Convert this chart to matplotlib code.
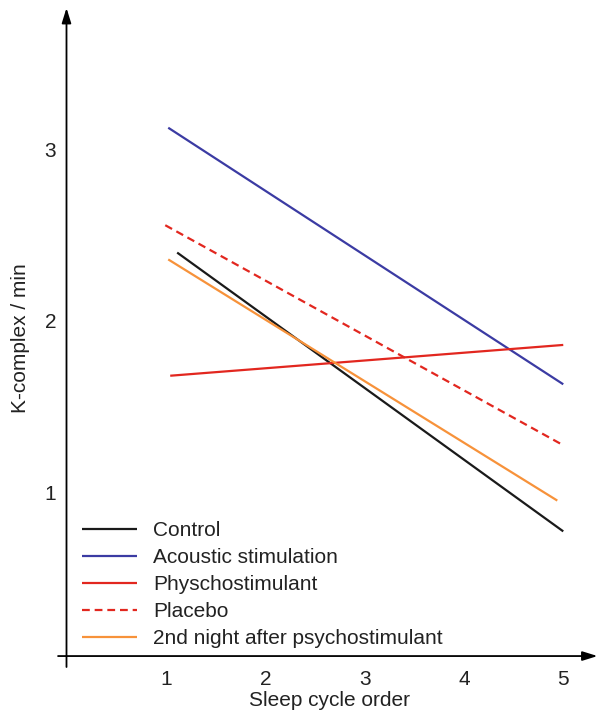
import matplotlib
matplotlib.use("Agg")
import matplotlib.pyplot as plt
from matplotlib.lines import Line2D

plt.rcParams['font.family'] = ['Liberation Sans', 'DejaVu Sans']

# Data (sleep cycle order -> K-complex / min), line endpoints
series_names = ["Control", "Acoustic stimulation", "Physchostimulant", "Placebo",
                "2nd night after psychostimulant"]
control_x = [1.11, 5.0]
control_y = [2.40, 0.77]
acoustic_x = [1.02, 5.0]
acoustic_y = [3.13, 1.63]
physcho_x = [1.04, 5.0]
physcho_y = [1.68, 1.86]
placebo_x = [0.99, 4.98]
placebo_y = [2.56, 1.28]
second_x = [1.02, 4.94]
second_y = [2.36, 0.95]

x_ticks = [1, 2, 3, 4, 5]
y_ticks = [1, 2, 3]

W, H = 597, 714
fig = plt.figure(figsize=(W / 100, H / 100), dpi=100)
ax = fig.add_axes([66 / W, (H - 667) / H, (597 - 66) / W, (667 - 8) / H])
ax.set_xlim(-0.01, 5.34)
ax.set_ylim(-0.023, 3.83)

lw = 1.6
colors = {"Control": "#1a1a1a", "Acoustic stimulation": "#3b3ba3",
          "Physchostimulant": "#e2271f", "Placebo": "#e2271f",
          "2nd night after psychostimulant": "#f7923a"}
data = [(control_x, control_y, '-'), (acoustic_x, acoustic_y, '-'),
        (physcho_x, physcho_y, '-'), (placebo_x, placebo_y, (0, (3.5, 2.2))),
        (second_x, second_y, '-')]
handles = []
for name, (xs, ys, ls) in zip(series_names, data):
    ln, = ax.plot(xs, ys, color=colors[name], lw=lw, linestyle=ls,
                  solid_capstyle='butt', dash_capstyle='butt', label=name)
    handles.append(ln)

for s in ax.spines.values():
    s.set_visible(False)

# axes with arrows
ax.annotate('', xy=(-0.005, 3.83), xytext=(-0.005, -0.023),
            arrowprops=dict(arrowstyle='-|>,head_length=0.9,head_width=0.28',
                            lw=1.3, color='black', shrinkA=0, shrinkB=0),
            annotation_clip=False)
ax.annotate('', xy=(5.345, 0.041), xytext=(-0.09, 0.041),
            arrowprops=dict(arrowstyle='-|>,head_length=0.9,head_width=0.28',
                            lw=1.3, color='black', shrinkA=0, shrinkB=0),
            annotation_clip=False)

ax.set_xticks(x_ticks)
ax.set_xticklabels([str(v) for v in x_ticks])
ax.set_yticks(y_ticks)
ax.set_yticklabels([str(v) for v in y_ticks])
ax.tick_params(axis='both', length=0, labelsize=15, colors='#222222')
ax.tick_params(axis='x', pad=2)
ax.tick_params(axis='y', pad=7)

fig.text(330 / W, 1 - 701 / H, "Sleep cycle order", fontsize=15, ha='center',
         va='center', color='#222222')
fig.text(21 / W, 1 - 338 / H, "K-complex / min", fontsize=15, ha='center',
         va='center', rotation=90, color='#222222')

leg = ax.legend(handles=handles, loc='upper left',
                bbox_to_anchor=(82 / W, 1 - 521 / H), bbox_transform=fig.transFigure,
                frameon=False, fontsize=15, handlelength=2.64, handletextpad=0.77,
                labelspacing=0.39, borderpad=0, borderaxespad=0)
for t in leg.get_texts():
    t.set_color('#222222')

fig.savefig("out.png", dpi=100)
